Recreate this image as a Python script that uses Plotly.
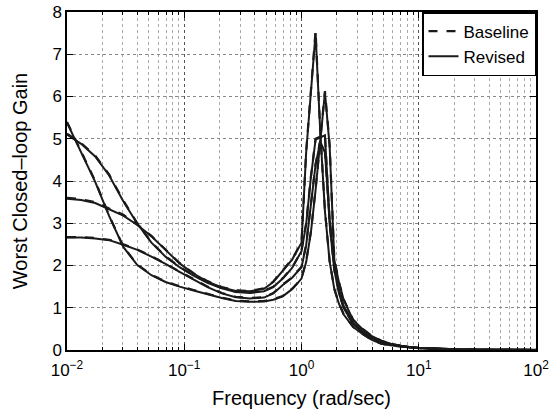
import plotly.graph_objects as go

# Frequency grid (rad/sec)
freq = [0.01, 0.0132, 0.0174, 0.0229, 0.0302, 0.0398, 0.0525, 0.0692, 0.0912, 0.120,
        0.158, 0.209, 0.275, 0.363, 0.479, 0.575, 0.692, 0.832, 0.912, 1.0,
        1.096, 1.202, 1.318, 1.445, 1.585, 1.738, 1.905, 2.089, 2.29, 2.75,
        3.31, 3.98, 4.79, 5.75, 6.92, 8.32, 10.0, 15.0, 22.9, 39.8,
        69.2, 100.0]

# Baseline (dashed) worst closed-loop gain, four cases
base_a = [5.40, 4.70, 4.00, 3.18, 2.45, 2.02, 1.78, 1.62, 1.51, 1.42,
          1.33, 1.24, 1.17, 1.15, 1.16, 1.20, 1.28, 1.45, 1.57, 1.70,
          2.10, 2.80, 3.80, 5.00, 6.13, 4.85, 2.15, 1.60, 1.20, 0.72,
          0.50, 0.33, 0.22, 0.15, 0.10, 0.07, 0.05, 0.025, 0.012, 0.006,
          0.003, 0.002]
base_b = [5.12, 4.90, 4.60, 4.15, 3.54, 3.00, 2.55, 2.22, 1.97, 1.77,
          1.60, 1.47, 1.38, 1.36, 1.40, 1.50, 1.70, 1.95, 2.15, 2.36,
          3.00, 4.10, 5.00, 5.05, 5.10, 3.00, 1.90, 1.35, 1.00, 0.62,
          0.42, 0.28, 0.19, 0.13, 0.09, 0.065, 0.048, 0.024, 0.011, 0.005,
          0.003, 0.002]
base_c = [3.60, 3.57, 3.50, 3.36, 3.20, 2.97, 2.70, 2.38, 2.06, 1.82,
          1.63, 1.49, 1.41, 1.40, 1.46, 1.62, 1.88, 2.15, 2.35, 2.55,
          4.70, 6.20, 7.55, 5.20, 3.30, 2.10, 1.45, 1.10, 0.85, 0.55,
          0.38, 0.24, 0.15, 0.11, 0.08, 0.06, 0.045, 0.022, 0.010, 0.005,
          0.003, 0.002]
base_d = [2.67, 2.67, 2.65, 2.61, 2.50, 2.38, 2.22, 2.05, 1.86, 1.68,
          1.50, 1.35, 1.26, 1.23, 1.25, 1.35, 1.55, 1.72, 1.85, 1.97,
          2.50, 3.50, 4.40, 4.95, 4.70, 3.10, 2.00, 1.45, 1.05, 0.65,
          0.44, 0.30, 0.20, 0.14, 0.095, 0.068, 0.05, 0.024, 0.011, 0.005,
          0.003, 0.002]

# Revised (solid) worst closed-loop gain, four cases
rev_a = [5.38, 4.68, 3.98, 3.17, 2.44, 2.01, 1.77, 1.61, 1.50, 1.41,
         1.32, 1.23, 1.16, 1.14, 1.15, 1.19, 1.27, 1.44, 1.56, 1.69,
         2.08, 2.78, 3.78, 4.98, 6.10, 4.82, 2.13, 1.59, 1.19, 0.71,
         0.50, 0.33, 0.22, 0.15, 0.10, 0.07, 0.05, 0.025, 0.012, 0.006,
         0.003, 0.002]
rev_b = [5.10, 4.88, 4.58, 4.13, 3.52, 2.99, 2.54, 2.21, 1.96, 1.76,
         1.59, 1.46, 1.37, 1.35, 1.39, 1.49, 1.69, 1.94, 2.14, 2.34,
         2.98, 4.08, 4.98, 5.03, 5.08, 2.98, 1.89, 1.34, 0.99, 0.62,
         0.42, 0.28, 0.19, 0.13, 0.09, 0.065, 0.048, 0.024, 0.011, 0.005,
         0.003, 0.002]
rev_c = [3.58, 3.55, 3.48, 3.34, 3.18, 2.96, 2.69, 2.37, 2.05, 1.81,
         1.62, 1.48, 1.40, 1.39, 1.45, 1.61, 1.87, 2.14, 2.34, 2.54,
         4.68, 6.17, 7.50, 5.17, 3.28, 2.09, 1.44, 1.09, 0.84, 0.55,
         0.38, 0.24, 0.15, 0.11, 0.08, 0.06, 0.045, 0.022, 0.010, 0.005,
         0.003, 0.002]
rev_d = [2.66, 2.66, 2.64, 2.60, 2.49, 2.37, 2.21, 2.04, 1.85, 1.67,
         1.49, 1.34, 1.25, 1.22, 1.24, 1.34, 1.54, 1.71, 1.84, 1.96,
         2.48, 3.48, 4.38, 4.93, 4.68, 3.08, 1.99, 1.44, 1.04, 0.64,
         0.44, 0.30, 0.20, 0.14, 0.095, 0.068, 0.05, 0.024, 0.011, 0.005,
         0.003, 0.002]

x_tickvals = [0.01, 0.1, 1, 10, 100]
x_ticktext = ["10<sup>\u22122</sup>", "10<sup>\u22121</sup>", "10<sup>0</sup>",
              "10<sup>1</sup>", "10<sup>2</sup>"]
y_tickvals = [0, 1, 2, 3, 4, 5, 6, 7, 8]

FONT = "Liberation Sans, Arial, Helvetica, sans-serif"
LINE = "#1a1a1a"

fig = go.Figure()
baselines = [base_a, base_b, base_c, base_d]
reviseds = [rev_a, rev_b, rev_c, rev_d]
for i, ys in enumerate(baselines):
    fig.add_trace(go.Scatter(x=freq, y=ys, mode="lines", name="Baseline",
                             legendgroup="base", showlegend=(i == 0),
                             line=dict(color=LINE, width=2.2, dash="dash")))
for i, ys in enumerate(reviseds):
    fig.add_trace(go.Scatter(x=freq, y=ys, mode="lines", name="Revised",
                             legendgroup="rev", showlegend=(i == 0),
                             line=dict(color=LINE, width=2)))

minor_x = [m * 10.0 ** e for e in range(-2, 2) for m in range(2, 10)]

fig.update_layout(
    width=550, height=411,
    margin=dict(l=67, r=14, t=12, b=61),
    paper_bgcolor="white", plot_bgcolor="white",
    font=dict(family=FONT, size=17, color="black"),
    legend=dict(x=1, y=1, xanchor="right", yanchor="top",
                bgcolor="white", bordercolor="black", borderwidth=1.5,
                font=dict(family=FONT, size=17), tracegroupgap=0,
                traceorder="normal"),
    xaxis=dict(type="log", range=[-2, 2], tickmode="array",
               tickvals=x_tickvals, ticktext=x_ticktext, automargin=False,
               ticks="inside", ticklen=6, tickcolor="black",
               ticklabelstandoff=4,
               showline=True, linecolor="black", linewidth=1.5, mirror="ticks",
               showgrid=True, gridcolor="#555555", griddash="dot", gridwidth=1,
               zeroline=False,
               minor=dict(tickmode="array", tickvals=minor_x, ticks="inside",
                          ticklen=3, tickcolor="black", showgrid=True,
                          gridcolor="#aaaaaa", griddash="dot", gridwidth=1),
               title=dict(text="Frequency (rad/sec)", standoff=12),
               tickfont=dict(size=17)),
    yaxis=dict(range=[0, 8], tickmode="array", tickvals=y_tickvals,
               automargin=False,
               ticks="inside", ticklen=6, tickcolor="black",
               showline=True, linecolor="black", linewidth=1.5, mirror="ticks",
               showgrid=True, gridcolor="#888888", griddash="dot", gridwidth=1,
               zeroline=False,
               title=dict(text="Worst Closed\u2013loop Gain", standoff=19),
               tickfont=dict(size=17)),
)

fig.write_html("out.html",
               config={"displayModeBar": False},
               post_script="document.body.style.margin='0';")
